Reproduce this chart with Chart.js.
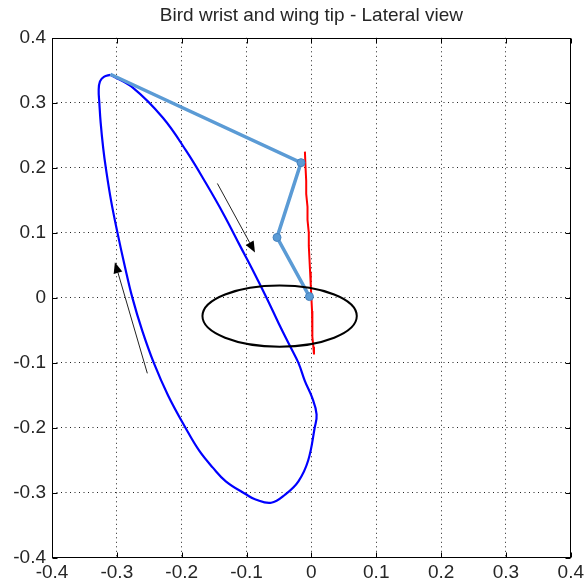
<!DOCTYPE html>
<html>
<head>
<meta charset="utf-8">
<style>
  html, body { margin: 0; padding: 0; background: #fff; }
  #wrap { width: 587px; height: 585px; }
</style>
<script src="https://cdn.jsdelivr.net/npm/chart.js@4.4.0/dist/chart.umd.min.js"></script>
</head>
<body>
<div id="wrap"><canvas id="wing-chart" width="587" height="585"></canvas></div>
<script>
// axis ticks
const tickValues = [-0.4, -0.3, -0.2, -0.1, 0, 0.1, 0.2, 0.3, 0.4];
const xTickLabels = ['-0.4', '-0.3', '-0.2', '-0.1', '0', '0.1', '0.2', '0.3', '0.4'];
const yTickLabels = ['-0.4', '-0.3', '-0.2', '-0.1', '0', '0.1', '0.2', '0.3', '0.4'];

// wing tip path (closed loop)
const tipX = [-0.310, -0.320, -0.326, -0.328, -0.327, -0.325, -0.321, -0.317, -0.309, -0.299,
  -0.288, -0.276, -0.261, -0.243, -0.221, -0.194, -0.173, -0.152, -0.132, -0.101,
  -0.086, -0.062, -0.040, -0.020, -0.005, 0.005, 0.008, 0.001, -0.010, -0.020,
  -0.033, -0.050, -0.069, -0.088, -0.110, -0.135, -0.163, -0.193, -0.229, -0.275, -0.310];
const tipY = [0.343, 0.340, 0.333, 0.320, 0.300, 0.270, 0.230, 0.200, 0.150, 0.100,
  0.050, 0.000, -0.050, -0.100, -0.150, -0.200, -0.235, -0.261, -0.282, -0.302,
  -0.310, -0.315, -0.302, -0.282, -0.250, -0.200, -0.179, -0.153, -0.128, -0.100,
  -0.074, -0.040, 0.000, 0.038, 0.080, 0.128, 0.177, 0.226, 0.277, 0.323, 0.343];

// wrist path (red)
const wristX = [-0.010, -0.009, -0.008, -0.008, -0.006, -0.006, -0.004, -0.004, -0.003, -0.002,
  -0.001, 0.000, 0.001, 0.001, 0.002, 0.003, 0.004];
const wristY = [0.225, 0.200, 0.180, 0.160, 0.140, 0.120, 0.100, 0.080, 0.060, 0.040,
  0.020, 0.000, -0.020, -0.040, -0.060, -0.075, -0.087];

// wing segments: tip, wrist, elbow, shoulder
const wingX = [-0.310, -0.016, -0.053, -0.003];
const wingY = [0.344, 0.208, 0.093, 0.002];

// body ellipse: centre and half axes
const bodyCentre = [-0.049, -0.028];
const bodyRadii = [0.119, 0.047];

// direction arrows: tail -> tip
const arrowTails = [[-0.145, 0.176], [-0.253, -0.116]];
const arrowTips = [[-0.087, 0.070], [-0.303, 0.055]];

const toPoints = (xs, ys) => xs.map((v, i) => ({ x: v, y: ys[i] }));
const fontFamily = '"Liberation Sans", Arial, Helvetica, sans-serif';

const extras = {
  id: 'extras',
  afterDatasetsDraw(chart) {
    const { ctx, scales: { x, y } } = chart;
    ctx.save();
    // body
    const cx = x.getPixelForValue(bodyCentre[0]);
    const cy = y.getPixelForValue(bodyCentre[1]);
    const rx = Math.abs(x.getPixelForValue(bodyCentre[0] + bodyRadii[0]) - cx);
    const ry = Math.abs(y.getPixelForValue(bodyCentre[1] + bodyRadii[1]) - cy);
    ctx.beginPath();
    ctx.ellipse(cx, cy, rx, ry, 0, 0, Math.PI * 2);
    ctx.strokeStyle = '#000';
    ctx.lineWidth = 2;
    ctx.stroke();

    // arrows
    arrowTails.forEach((t, i) => {
      const x0 = x.getPixelForValue(t[0]), y0 = y.getPixelForValue(t[1]);
      const x1 = x.getPixelForValue(arrowTips[i][0]), y1 = y.getPixelForValue(arrowTips[i][1]);
      const ang = Math.atan2(y1 - y0, x1 - x0);
      const len = 11, half = 4.5;
      const bx = x1 - len * Math.cos(ang), by = y1 - len * Math.sin(ang);
      ctx.beginPath();
      ctx.moveTo(x0, y0);
      ctx.lineTo(bx, by);
      ctx.strokeStyle = '#222';
      ctx.lineWidth = 1;
      ctx.stroke();
      ctx.beginPath();
      ctx.moveTo(x1, y1);
      ctx.lineTo(bx + half * Math.sin(ang), by - half * Math.cos(ang));
      ctx.lineTo(bx - half * Math.sin(ang), by + half * Math.cos(ang));
      ctx.closePath();
      ctx.fillStyle = '#000';
      ctx.fill();
    });
    ctx.restore();
  },
  afterDraw(chart) {
    // box and inward ticks like matlab
    const { ctx, chartArea: a, scales: { x, y } } = chart;
    const l = Math.round(a.left) + 0.5, r = Math.round(a.right) - 0.5;
    const t = Math.round(a.top) + 0.5, b = Math.round(a.bottom) - 0.5;
    ctx.save();
    ctx.strokeStyle = '#000';
    ctx.lineWidth = 1;
    ctx.strokeRect(l, t, r - l, b - t);
    ctx.beginPath();
    tickValues.forEach(v => {
      const px = Math.round(x.getPixelForValue(v)) + 0.5;
      ctx.moveTo(px, b); ctx.lineTo(px, b - 5);
      ctx.moveTo(px, t); ctx.lineTo(px, t + 5);
      const py = Math.round(y.getPixelForValue(v)) + 0.5;
      ctx.moveTo(l, py); ctx.lineTo(l + 5, py);
      ctx.moveTo(r, py); ctx.lineTo(r - 5, py);
    });
    ctx.stroke();
    ctx.restore();
  }
};

const gridOpts = {
  drawTicks: false,
  color: c => (c.index === 0 || c.index === tickValues.length - 1) ? 'rgba(0,0,0,0)' : '#222',
  lineWidth: 1
};

new Chart(document.getElementById('wing-chart').getContext('2d'), {
  type: 'scatter',
  data: {
    datasets: [
      {
        label: 'wing',
        data: toPoints(wingX, wingY),
        showLine: true,
        borderColor: 'rgb(91,155,213)',
        backgroundColor: 'rgb(91,155,213)',
        borderWidth: 3.5,
        pointRadius: [0, 4, 4, 4],
        pointBorderColor: 'rgb(70,130,190)',
        pointBorderWidth: 1,
        order: 0
      },
      {
        label: 'wrist',
        data: toPoints(wristX, wristY),
        showLine: true,
        borderColor: '#ff0000',
        borderWidth: 2,
        pointRadius: 0,
        order: 1
      },
      {
        label: 'tip',
        data: toPoints(tipX, tipY),
        showLine: true,
        borderColor: '#0000ff',
        borderWidth: 2.2,
        pointRadius: 0,
        tension: 0.4,
        order: 2
      }
    ]
  },
  options: {
    responsive: false,
    animation: false,
    events: [],
    layout: { padding: { left: 0, right: 12, top: 0, bottom: 0 } },
    plugins: {
      legend: { display: false },
      tooltip: { enabled: false },
      title: {
        display: true,
        fullSize: false,
        text: 'Bird wrist and wing tip - Lateral view',
        color: '#262626',
        font: { family: fontFamily, size: 19, weight: 'normal' },
        padding: { top: 4, bottom: 11 }
      }
    },
    scales: {
      x: {
        type: 'linear',
        min: -0.4, max: 0.4,
        afterBuildTicks: s => { s.ticks = tickValues.map(v => ({ value: v })); },
        afterFit: s => { s.height = 27; },
        ticks: {
          callback: (v, i) => xTickLabels[i],
          color: '#262626',
          font: { family: fontFamily, size: 19 },
          padding: 3,
          maxRotation: 0,
          autoSkip: false
        },
        grid: gridOpts,
        border: { display: false, dash: [1, 3.5] }
      },
      y: {
        type: 'linear',
        min: -0.4, max: 0.4,
        afterBuildTicks: s => { s.ticks = tickValues.map(v => ({ value: v })); },
        afterFit: s => { s.width = 52; },
        ticks: {
          callback: (v, i) => yTickLabels[i],
          color: '#262626',
          font: { family: fontFamily, size: 19 },
          padding: 6,
          autoSkip: false
        },
        grid: gridOpts,
        border: { display: false, dash: [1, 3.5] }
      }
    }
  },
  plugins: [extras]
});
</script>
</body>
</html>
